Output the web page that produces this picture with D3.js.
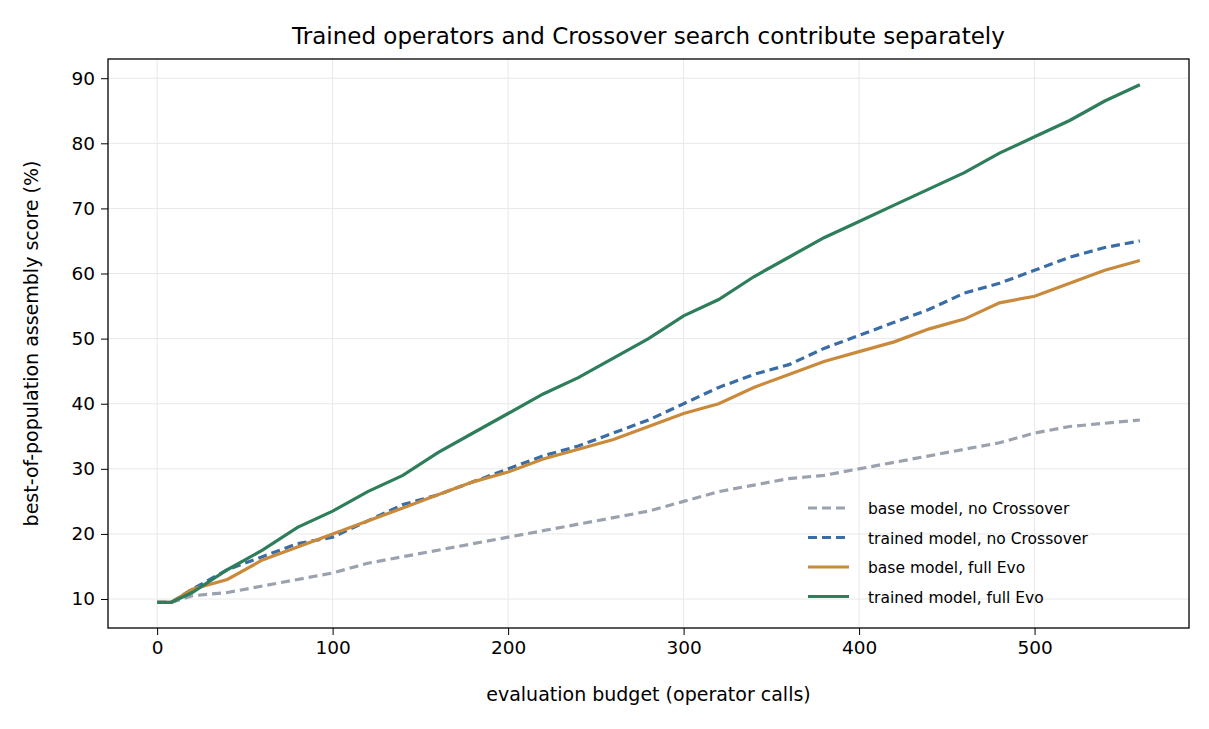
<!DOCTYPE html>
<html>
<head>
<meta charset="utf-8">
<script src="https://cdn.jsdelivr.net/npm/d3@7"></script>
<style>
  body { margin: 0; background: #fff; font-family: "DejaVu Sans", sans-serif; }
  .grid line { stroke: #e8e8e8; }
  .axis text { font-size: 18.5px; fill: #000; font-family: "DejaVu Sans", sans-serif; }
</style>
</head>
<body>
<script>
// evaluation budget sample points
var budget = [0, 8, 20, 40, 60, 80, 100, 120, 140, 160, 180, 200, 220, 240, 260, 280, 300,
  320, 340, 360, 380, 400, 420, 440, 460, 480, 500, 520, 540, 560];
var baseNoCross = [9.5, 9.5, 10.5, 11, 12, 13, 14, 15.5, 16.5, 17.5, 18.5, 19.5, 20.5, 21.5, 22.5,
  23.5, 25, 26.5, 27.5, 28.5, 29, 30, 31, 32, 33, 34, 35.5, 36.5, 37, 37.5];
var trainedNoCross = [9.5, 9.5, 11.5, 14.5, 16.5, 18.5, 19.5, 22, 24.5, 26, 28, 30, 32, 33.5, 35.5,
  37.5, 40, 42.5, 44.5, 46, 48.5, 50.5, 52.5, 54.5, 57, 58.5, 60.5, 62.5, 64, 65];
var baseFull = [9.5, 9.5, 11.5, 13, 16, 18, 20, 22, 24, 26, 28, 29.5, 31.5, 33, 34.5, 36.5, 38.5,
  40, 42.5, 44.5, 46.5, 48, 49.5, 51.5, 53, 55.5, 56.5, 58.5, 60.5, 62];
var trainedFull = [9.5, 9.5, 11, 14.5, 17.5, 21, 23.5, 26.5, 29, 32.5, 35.5, 38.5, 41.5, 44, 47,
  50, 53.5, 56, 59.5, 62.5, 65.5, 68, 70.5, 73, 75.5, 78.5, 81, 83.5, 86.5, 89];
var xTicks = [0, 100, 200, 300, 400, 500];
var yTicks = [10, 20, 30, 40, 50, 60, 70, 80, 90];

var series = [
  { name: 'base model, no Crossover', values: baseNoCross, color: '#9aa2ae', dash: '9,5' },
  { name: 'trained model, no Crossover', values: trainedNoCross, color: '#3a6ca6', dash: '9,5' },
  { name: 'base model, full Evo', values: baseFull, color: '#c98a3c', dash: null },
  { name: 'trained model, full Evo', values: trainedFull, color: '#2e7d5b', dash: null }
];

var W = 1209, H = 729, L = 108, R = 1189, T = 59, B = 628;
var svg = d3.select('body').append('svg').attr('width', W).attr('height', H);

var x = d3.scaleLinear().domain([-28, 588]).range([L, R]);
var y = d3.scaleLinear().domain([5.55, 92.95]).range([B, T]);

// grid
svg.append('g').attr('class', 'grid').selectAll('line').data(xTicks).enter().append('line')
  .attr('x1', function(d) { return x(d); }).attr('x2', function(d) { return x(d); })
  .attr('y1', T).attr('y2', B);
svg.append('g').attr('class', 'grid').selectAll('line').data(yTicks).enter().append('line')
  .attr('y1', function(d) { return y(d); }).attr('y2', function(d) { return y(d); })
  .attr('x1', L).attr('x2', R);

var line = d3.line()
  .x(function(d, i) { return x(budget[i]); })
  .y(function(d) { return y(d); });

svg.selectAll('path.series').data(series).enter().append('path')
  .attr('class', 'series')
  .attr('d', function(d) { return line(d.values); })
  .attr('fill', 'none')
  .attr('stroke', function(d) { return d.color; })
  .attr('stroke-width', 3.2)
  .attr('stroke-dasharray', function(d) { return d.dash; });

// axes
svg.append('g').attr('class', 'axis').attr('transform', 'translate(0,' + B + ')')
  .call(d3.axisBottom(x).tickValues(xTicks).tickSize(7).tickPadding(6));
svg.append('g').attr('class', 'axis').attr('transform', 'translate(' + L + ',0)')
  .call(d3.axisLeft(y).tickValues(yTicks).tickSize(7).tickPadding(6));
svg.selectAll('.axis .domain').remove();
svg.append('rect').attr('x', L).attr('y', T).attr('width', R - L).attr('height', B - T)
  .attr('fill', 'none').attr('stroke', '#000').attr('stroke-width', 1.3);

svg.append('text').attr('x', (L + R) / 2).attr('y', 44).attr('text-anchor', 'middle')
  .attr('font-size', 23).text('Trained operators and Crossover search contribute separately');
svg.append('text').attr('x', (L + R) / 2).attr('y', 701).attr('text-anchor', 'middle')
  .attr('font-size', 19).text('evaluation budget (operator calls)');
svg.append('text').attr('transform', 'translate(38,' + ((T + B) / 2) + ') rotate(-90)')
  .attr('text-anchor', 'middle').attr('font-size', 19).text('best-of-population assembly score (%)');

// legend
var lg = svg.append('g').attr('transform', 'translate(808,508)');
var items = lg.selectAll('g').data(series).enter().append('g')
  .attr('transform', function(d, i) { return 'translate(0,' + (i * 29.5) + ')'; });
items.append('line').attr('x1', 0).attr('x2', 41).attr('y1', 0).attr('y2', 0)
  .attr('stroke', function(d) { return d.color; }).attr('stroke-width', 3.2)
  .attr('stroke-dasharray', function(d) { return d.dash; });
items.append('text').attr('x', 60).attr('y', 6).attr('font-size', 15.5)
  .text(function(d) { return d.name; });
</script>
</body>
</html>
